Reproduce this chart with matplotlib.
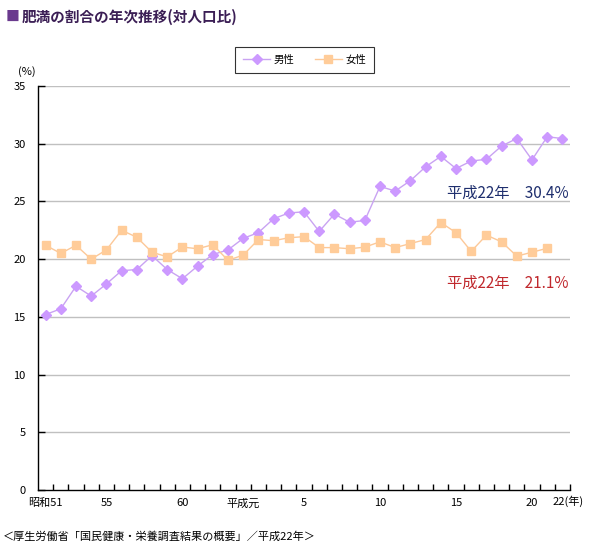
import matplotlib
matplotlib.use("Agg")
import matplotlib.pyplot as plt
from matplotlib.ticker import FixedLocator
from matplotlib.transforms import blended_transform_factory

plt.rcParams['font.family'] = ['Noto Sans CJK JP', 'DejaVu Sans']

# ---- data ----
years_label = ["昭和51", "55", "60", "平成元", "5", "10", "15", "20"]
label_index = [0, 4, 9, 13, 17, 22, 27, 32]
last_label = "22(年)"
male = [15.2, 15.7, 17.65, 16.8, 17.85, 19.0, 19.1, 20.3, 19.1, 18.3,
        19.4, 20.4, 20.8, 21.8, 22.3, 23.5, 24.0, 24.1, 22.4, 23.9,
        23.2, 23.35, 26.3, 25.9, 26.8, 28.0, 28.9, 27.85, 28.5, 28.65,
        29.8, 30.45, 28.6, 30.6, 30.45]
female = [21.2, 20.5, 21.2, 20.0, 20.8, 22.5, 21.9, 20.6, 20.2, 21.05,
          20.9, 21.25, 19.9, 20.35, 21.7, 21.6, 21.85, 21.95, 21.0, 21.0,
          20.9, 21.04, 21.5, 21.0, 21.35, 21.7, 23.17, 22.3, 20.67, 22.08,
          21.5, 20.26, 20.6, 20.94]
series_names = ["男性", "女性"]
yticks = [0, 5, 10, 15, 20, 25, 30, 35]

n_cat = len(male)

fig = plt.figure(figsize=(5.92, 5.51), dpi=100)
ax = fig.add_axes([38/592, 1-490/551, 532/592, 404/551])

ax.set_xlim(-0.5, n_cat - 0.5)
ax.set_ylim(0, 35)

for y in yticks[1:]:
    ax.axhline(y, color="#c0c0c0", lw=1.0, zorder=0)

lm, = ax.plot(range(len(male)), male, color="#c9a3f2", lw=1.0, marker="D",
              markersize=5.2, markerfacecolor="#cc99ff", markeredgecolor="#cc99ff",
              label=series_names[0], zorder=3)
lf, = ax.plot(range(len(female)), female, color="#fcc898", lw=1.0, marker="s",
              markersize=5.5, markerfacecolor="#ffcc99", markeredgecolor="#ffcc99",
              label=series_names[1], zorder=3)

for s in ["top", "right"]:
    ax.spines[s].set_visible(False)
for s in ["left", "bottom"]:
    ax.spines[s].set_color("black")
    ax.spines[s].set_linewidth(1.0)

ax.set_yticks(yticks)
ax.set_yticklabels([str(v) for v in yticks], fontsize=8)
ax.tick_params(axis="y", direction="in", length=5, width=1, pad=9)

ax.xaxis.set_major_locator(FixedLocator([i + 0.5 for i in range(n_cat)]))
ax.xaxis.set_major_formatter(plt.NullFormatter())
ax.tick_params(axis="x", which="major", direction="in", length=4, width=1)
ax.set_xticks(label_index, minor=True)
ax.set_xticklabels(years_label, minor=True, fontsize=8)
ax.tick_params(axis="x", which="minor", length=0, pad=6)

trans = blended_transform_factory(ax.transData, ax.transAxes)
ax.text(n_cat - 1 + 0.4, -0.0148, last_label, transform=trans, fontsize=8,
        ha="center", va="top")

fig.text(18/592, 1-72/551, "(%)", fontsize=8, ha="left", va="center")

fig.text(6/592, 1-17/551, "■", fontsize=10, color="#6a3a8e", ha="left", va="center")
fig.text(22/592, 1-17/551, "肥満の割合の年次推移(対人口比)", fontsize=10.5,
         fontweight="bold", color="#3b1e55", ha="left", va="center")

ax.text(n_cat - 1 + 0.4, 25.7, "平成22年　30.4%", fontsize=11, color="#1f2f6e",
        ha="right", va="center")
ax.text(n_cat - 1 + 0.4, 17.9, "平成22年　21.1%", fontsize=11, color="#c0282d",
        ha="right", va="center")

leg = fig.legend(handles=[lm, lf], loc="center", bbox_to_anchor=(304.5/592, 1-60/551),
                 ncol=2, fontsize=7.5, frameon=True, fancybox=False,
                 edgecolor="black", handlelength=2.6, columnspacing=2.0,
                 borderpad=0.8, handletextpad=0.3)
leg.get_frame().set_linewidth(0.8)

fig.text(3/592, 1-537/551, "＜厚生労働省「国民健康・栄養調査結果の概要」／平成22年＞",
         fontsize=8, ha="left", va="center")

fig.savefig("out.png", dpi=100)
